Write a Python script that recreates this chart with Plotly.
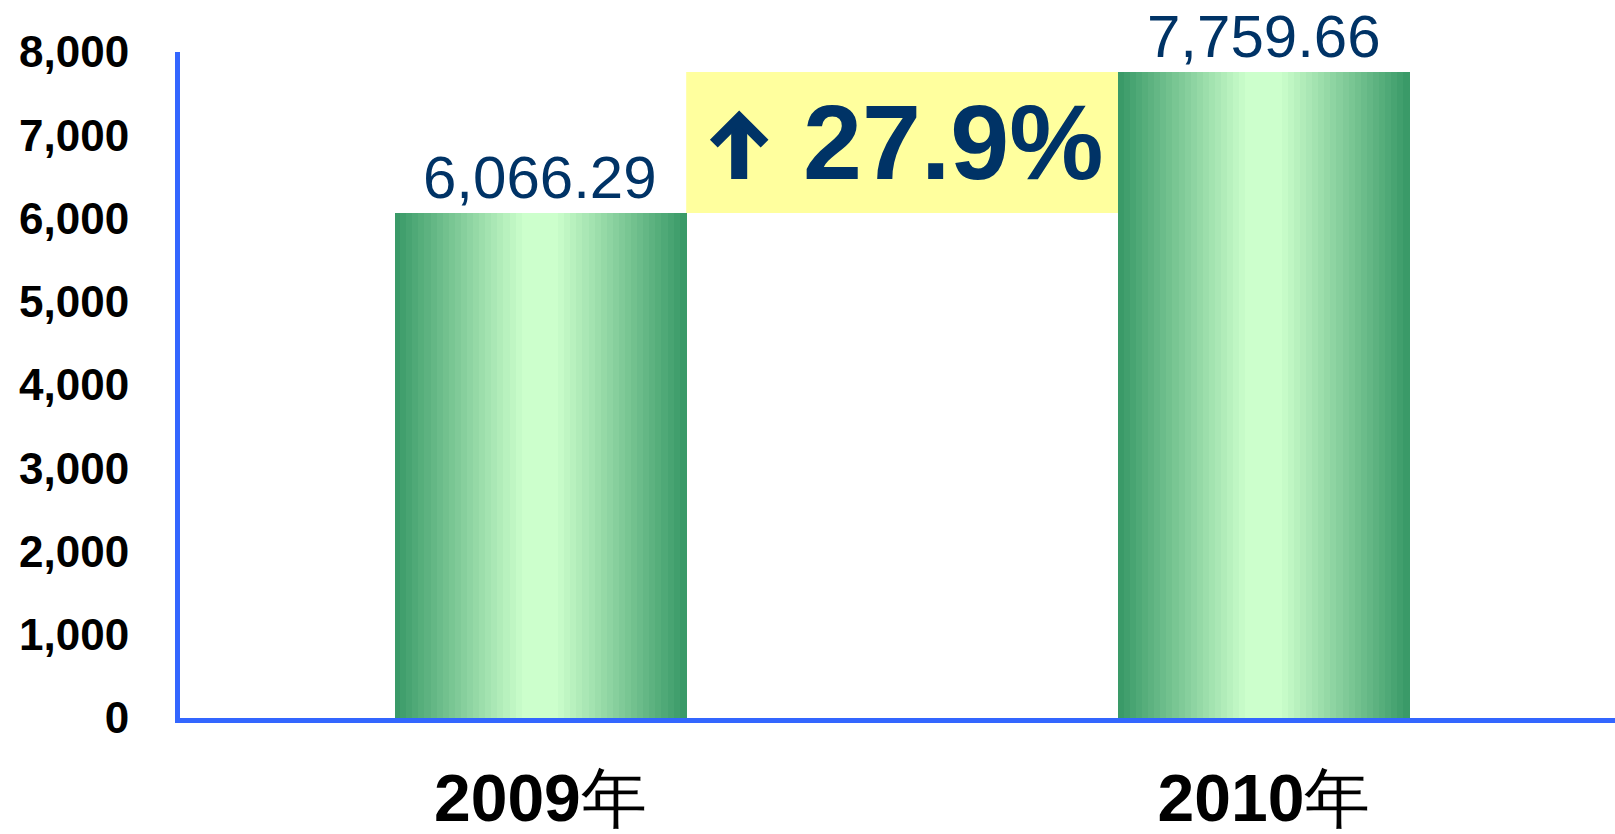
import plotly.graph_objects as go

# ---- data ----
categories = ["2009年", "2010年"]
tick_text = ["<b>2009</b>年", "<b>2010</b>年"]
values = [6066.29, 7759.66]
value_labels = ["6,066.29", "7,759.66"]
y_ticks = [0, 1000, 2000, 3000, 4000, 5000, 6000, 7000, 8000]
y_tick_labels = ["0", "1,000", "2,000", "3,000", "4,000", "5,000", "6,000", "7,000", "8,000"]

growth = values[1] / values[0] - 1
growth_label = f"{growth*100:.1f}%"

# ---- style ----
BAR_W = 0.403
N = 48
dark = (55, 152, 102)
light = (204, 255, 204)
AXIS_BLUE = "#3366FF"
NAVY = "#003366"
FONT = "Liberation Sans, Arial, sans-serif"

x_idx = list(range(len(categories)))

fig = go.Figure()
sw = BAR_W / N
for i in range(N):
    u = (i + 0.5) / N
    t = 1 - abs(2 * u - 1)
    t = min(1.0, t * 1.12)
    col = tuple(int(round(d + (l - d) * t)) for d, l in zip(dark, light))
    fig.add_trace(go.Bar(
        x=x_idx, y=values,
        width=sw * 1.15,
        offset=-BAR_W / 2 + i * sw - (sw * 0.075 if i > 0 else 0),
        marker=dict(color=f"rgb{col}", line=dict(width=0)),
        showlegend=False, hoverinfo="skip",
    ))

# yellow growth box between the bar tops
fig.add_shape(type="rect", xref="x", yref="y",
              x0=x_idx[0] + BAR_W / 2, x1=x_idx[1] - BAR_W / 2,
              y0=values[0], y1=values[1],
              fillcolor="#FFFF9E", line=dict(width=0), layer="below")

# value labels
for xi, v, lab in zip(x_idx, values, value_labels):
    fig.add_annotation(x=xi, y=v, text=lab, showarrow=False,
                       yanchor="bottom", xanchor="center", yshift=0,
                       font=dict(family=FONT, size=60, color=NAVY))

mid = (values[0] + values[1]) / 2
# growth text
fig.add_annotation(x=x_idx[1] - BAR_W / 2, y=mid, text=f"<b>{growth_label}</b>",
                   showarrow=False, xanchor="right", yanchor="middle",
                   xshift=-12, yshift=0,
                   font=dict(family=FONT, size=106, color=NAVY))
# up arrow
fig.add_annotation(x=x_idx[0] + BAR_W / 2, y=mid, text="", showarrow=True,
                   ax=0, ay=70, xshift=53, yshift=32,
                   arrowhead=4, arrowsize=0.61, arrowwidth=16, arrowcolor=NAVY,
                   standoff=0)

fig.update_layout(
    width=1615, height=834,
    margin=dict(l=180, r=0, t=52, b=116, autoexpand=False),
    paper_bgcolor="white", plot_bgcolor="white",
    barmode="overlay", bargap=0,
    showlegend=False,
)
fig.update_xaxes(
    tickmode="array", tickvals=x_idx, ticktext=tick_text,
    range=[-0.498, 1.485],
    showline=True, linecolor=AXIS_BLUE, linewidth=5,
    showgrid=False, zeroline=False, ticks="",
    ticklabelstandoff=19, automargin=False,
    tickfont=dict(family=FONT, size=66, color="black"),
)
fig.update_yaxes(
    tickmode="array", tickvals=y_ticks, ticktext=[f"<b>{t}</b>" for t in y_tick_labels],
    range=[0, 8000],
    showline=True, linecolor=AXIS_BLUE, linewidth=5,
    showgrid=False, zeroline=False, ticks="",
    ticklabelstandoff=37, automargin=False,
    tickfont=dict(family=FONT, size=44, color="black"),
)

fig.write_html("out.html", config={"displayModeBar": False},
               post_script="document.body.style.margin='0';document.body.style.overflow='hidden';")
